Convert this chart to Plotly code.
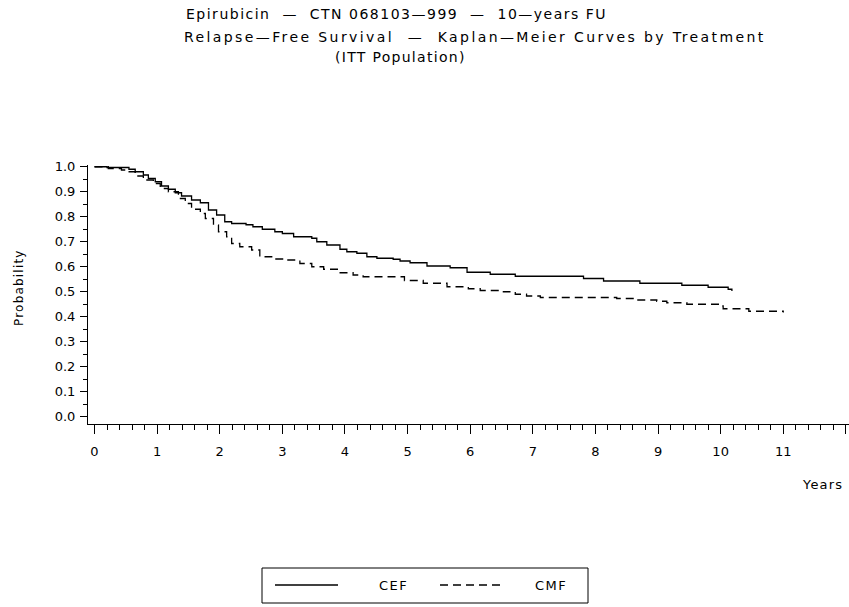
import plotly.graph_objects as go

# Kaplan-Meier step data (time in years, survival probability)
cef_t = [0, 0.2, 0.55, 0.65, 0.78, 0.86, 0.97, 1.07, 1.18, 1.29, 1.39, 1.55, 1.69, 1.82, 1.95,
         2.08, 2.19, 2.42, 2.53, 2.68, 2.88, 3.0, 3.18, 3.47, 3.55, 3.71, 3.92, 4.03, 4.19, 4.35,
         4.51, 4.77, 4.88, 5.04, 5.31, 5.68, 5.95, 6.32, 6.72, 7.81, 8.13, 8.71, 9.38, 9.8, 10.12,
         10.18]
cef_s = [1.0, 0.997, 0.99, 0.98, 0.967, 0.953, 0.94, 0.923, 0.91, 0.896, 0.883, 0.867, 0.856,
         0.827, 0.807, 0.78, 0.773, 0.768, 0.76, 0.75, 0.74, 0.733, 0.72, 0.714, 0.70, 0.687, 0.67,
         0.66, 0.654, 0.64, 0.634, 0.63, 0.623, 0.616, 0.603, 0.596, 0.578, 0.57, 0.562, 0.553,
         0.543, 0.534, 0.526, 0.518, 0.51, 0.503]

cmf_t = [0, 0.22, 0.43, 0.54, 0.65, 0.78, 0.94, 1.05, 1.18, 1.34, 1.45, 1.55, 1.69, 1.77, 1.90,
         1.98, 2.11, 2.19, 2.32, 2.51, 2.64, 2.83, 3.04, 3.28, 3.47, 3.66, 3.89, 4.13, 4.29, 4.95,
         5.25, 5.63, 5.97, 6.16, 6.53, 6.72, 6.9, 7.12, 8.34, 8.66, 8.98, 9.14, 9.46, 9.99, 10.04,
         10.45, 11.0]
cmf_s = [1.0, 0.993, 0.987, 0.98, 0.963, 0.947, 0.933, 0.913, 0.9, 0.873, 0.853, 0.83, 0.813,
         0.793, 0.767, 0.74, 0.72, 0.693, 0.68, 0.667, 0.64, 0.631, 0.627, 0.613, 0.60, 0.59, 0.576,
         0.567, 0.56, 0.545, 0.534, 0.52, 0.512, 0.505, 0.50, 0.49, 0.483, 0.477, 0.473, 0.467,
         0.462, 0.456, 0.45, 0.443, 0.432, 0.422, 0.417]

x_ticks = list(range(0, 13))
y_ticks = [round(i * 0.1, 1) for i in range(0, 11)]

title_1 = "Epirubicin  —  CTN 068103—999  —  10—years FU"
title_2 = "Relapse—Free Survival  —  Kaplan—Meier Curves by Treatment"
title_3 = "(ITT Population)"

FONT = "DejaVu Sans"

fig = go.Figure()
fig.add_trace(go.Scatter(x=cef_t, y=cef_s, mode="lines", line_shape="hv", name="CEF",
                         line=dict(color="black", width=1.3), showlegend=False))
fig.add_trace(go.Scatter(x=cmf_t, y=cmf_s, mode="lines", line_shape="hv", name="CMF",
                         line=dict(color="black", width=1.3, dash="8px,5px"), showlegend=False))

L, R, T, B = 88, 0, 165, 183
W, H = 849, 607
pw, ph = W - L - R, H - T - B


def px(x):
    return (x - L) / pw


def py(y):
    return (H - B - y) / ph


def spaced(txt, ls):
    return f'<span style="letter-spacing:{ls}px">{txt}</span>'


fig.update_layout(
    width=W, height=H,
    margin=dict(l=L, r=R, t=T, b=B, pad=0),
    paper_bgcolor="white", plot_bgcolor="white",
    font=dict(family=FONT, color="black", size=13),
    xaxis=dict(range=[-0.104, 12.05], tickvals=x_ticks, ticktext=[str(v) for v in x_ticks],
               showgrid=False, zeroline=False, showline=True, linecolor="black", linewidth=1,
               ticks="outside", ticklen=9, tickwidth=1, tickcolor="black",
               minor=dict(dtick=0.2, ticks="outside", ticklen=5, tickwidth=1, tickcolor="black", showgrid=False),
               tickfont=dict(family=FONT, size=13), ticklabelstandoff=6),
    yaxis=dict(range=[-0.029, 1.007], tickvals=y_ticks, ticktext=[f"{v:.1f}" for v in y_ticks],
               showgrid=False, zeroline=False, showline=True, linecolor="black", linewidth=1,
               ticks="outside", ticklen=7, tickwidth=1, tickcolor="black",
               minor=dict(dtick=0.05, ticks="outside", ticklen=4, tickwidth=1, tickcolor="black", showgrid=False),
               tickfont=dict(family=FONT, size=13), ticklabelstandoff=2),
)

title_lines = [
    (title_1, 396, 14, 1.5),
    (title_2, 475, 37, 2.4),
    (title_3, 400, 57, 1.3),
]
for txt, cx, cy, ls in title_lines:
    fig.add_annotation(text=spaced(txt, ls), x=px(cx), y=py(cy), xref="paper", yref="paper",
                       showarrow=False, xanchor="center", yanchor="middle",
                       font=dict(family=FONT, size=14))

fig.add_annotation(text=spaced("Probability", 1.2), x=px(19), y=py(288), xref="paper", yref="paper",
                   showarrow=False, textangle=-90, xanchor="center", yanchor="middle",
                   font=dict(family=FONT, size=12))
fig.add_annotation(text=spaced("Years", 1.2), x=px(822), y=py(484), xref="paper", yref="paper",
                   showarrow=False, xanchor="center", yanchor="middle",
                   font=dict(family=FONT, size=13))

# Legend box
fig.add_shape(type="rect", xref="paper", yref="paper", x0=px(262), x1=px(588), y0=py(568), y1=py(603),
              line=dict(color="black", width=1), fillcolor="white")
fig.add_shape(type="line", xref="paper", yref="paper", x0=px(275), x1=px(338), y0=py(585), y1=py(585),
              line=dict(color="black", width=1.3))
fig.add_shape(type="line", xref="paper", yref="paper", x0=px(440), x1=px(502), y0=py(585), y1=py(585),
              line=dict(color="black", width=1.3, dash="8px,5px"))
fig.add_annotation(text=spaced("CEF", 1.5), x=px(393), y=py(585), xref="paper", yref="paper", showarrow=False,
                   xanchor="center", yanchor="middle", font=dict(family=FONT, size=13))
fig.add_annotation(text=spaced("CMF", 1.5), x=px(551), y=py(585), xref="paper", yref="paper", showarrow=False,
                   xanchor="center", yanchor="middle", font=dict(family=FONT, size=13))

fig.write_html("out.html")
